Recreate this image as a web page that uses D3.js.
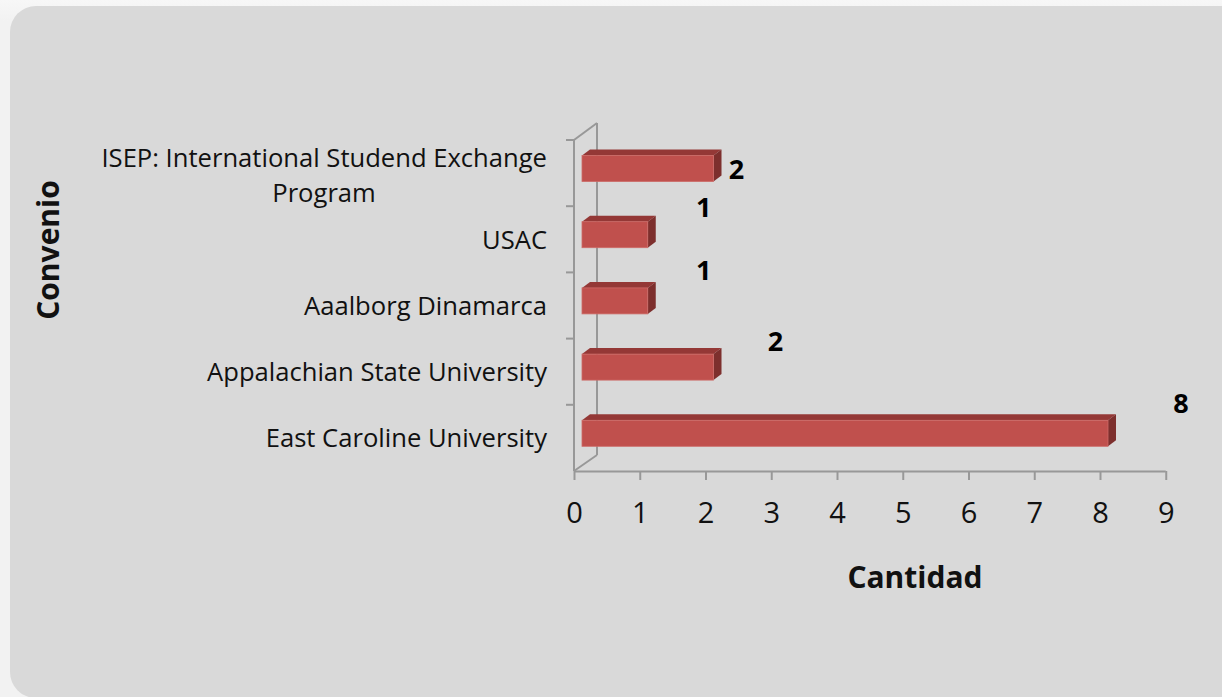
<!DOCTYPE html>
<html><head><meta charset="utf-8">
<script src="https://cdn.jsdelivr.net/npm/d3@7"></script>
<style>html,body{margin:0;padding:0;background:#f2f2f2;}svg{display:block;}</style>
</head><body>
<script>
const categories = ["East Caroline University","Appalachian State University","Aaalborg Dinamarca","USAC","ISEP: International Studend Exchange Program"];
const values = [8, 2, 1, 1, 2];
const xTicks = [0,1,2,3,4,5,6,7,8,9];
const xTitle = "Cantidad";
const yTitle = "Convenio";
// label nudges (Excel 3D data-label placement), relative to bar end / band top
const labelNudge = [[73,-1],[62,3],[56,-2],[56,1],[23,30]];

const W = 1222, H = 697;
const svg = d3.select("body").append("svg").attr("width", W).attr("height", H);
const defs = svg.append("defs");
const g0 = defs.append("linearGradient").attr("id","bg").attr("x1",0).attr("y1",0).attr("x2",0).attr("y2",1);
g0.append("stop").attr("offset","0").attr("stop-color","#f7f7f7");
g0.append("stop").attr("offset","0.03").attr("stop-color","#f2f2f2");
g0.append("stop").attr("offset","1").attr("stop-color","#f2f2f2");
svg.append("rect").attr("width",W).attr("height",H).attr("fill","url(#bg)");
svg.append("rect").attr("x",10).attr("y",6).attr("width",1260).attr("height",692).attr("rx",26).attr("fill","#d9d9d9");

const font = "'Open Sans', sans-serif";
const depthX = 8, depthY = -6;
const x = d3.scaleLinear().domain([0,9]).range([574, 1165.75]);
const xBar = d3.scaleLinear().domain([0,9]).range([574+depthX, 1165.75+depthX]);
const y = d3.scaleBand().domain(categories.slice().reverse()).range([140, 471]).paddingInner(0).paddingOuter(0);
const axisColor = "#989898";

// back wall
const wall = svg.append("g").attr("stroke", axisColor).attr("stroke-width", 2).attr("fill","none");
wall.append("line").attr("x1", x(0)+23).attr("x2", x(0)+23).attr("y1", 123).attr("y2", 471-16);
wall.append("line").attr("x1", x(0)).attr("y1", 140).attr("x2", x(0)+23).attr("y2", 123);
wall.append("line").attr("x1", x(0)).attr("y1", 471).attr("x2", x(0)+23).attr("y2", 471-16);

// bars
const barTop = 15.5, barH = 26;
const bars = svg.append("g").selectAll("g").data(categories).join("g");
bars.each(function(c, i){
  const gg = d3.select(this);
  const x0 = xBar(0), x1 = xBar(values[i]);
  const y0 = y(c) + barTop, y1 = y0 + barH;
  gg.append("path").attr("d", `M${x0},${y0} L${x0+depthX},${y0+depthY} L${x1+depthX},${y0+depthY} L${x1},${y0} Z`).attr("fill","#943836");
  gg.append("path").attr("d", `M${x1},${y0} L${x1+depthX},${y0+depthY} L${x1+depthX},${y1+depthY} L${x1},${y1} Z`).attr("fill","#7d2f2d");
  gg.append("rect").attr("x", x0).attr("y", y0).attr("width", x1-x0).attr("height", barH).attr("fill","#c0504d").attr("stroke","#cd6a67").attr("stroke-width",0.8);
});

// left axis (front)
const la = svg.append("g").attr("stroke", axisColor).attr("stroke-width", 2);
la.append("line").attr("x1", x(0)).attr("x2", x(0)).attr("y1", 140).attr("y2", 471);
const bounds = categories.map(c => y(c)).concat([140]);
la.selectAll("line.t").data(bounds).join("line").attr("class","t")
  .attr("x1", x(0)-8).attr("x2", x(0)).attr("y1", d=>d).attr("y2", d=>d);

// bottom axis
const xa = svg.append("g").attr("transform","translate(0,471)")
  .call(d3.axisBottom(x).tickValues(xTicks).tickSize(9).tickFormat(d3.format("d")));
xa.select(".domain").attr("stroke", axisColor).attr("stroke-width", 2).attr("d", `M${x(0)},0.5H${x(9)}`);
xa.selectAll(".tick line").attr("stroke", axisColor).attr("stroke-width", 2);
xa.selectAll(".tick text").attr("fill","#111").attr("font-family", font).attr("font-size", 29)
  .attr("y", 42).attr("dy","0.35em");

// category labels
const cl = svg.append("g").attr("font-family", font).attr("font-size", 25.6).attr("fill","#111").attr("text-anchor","end");
categories.forEach(c => {
  const cy = y(c) + y.bandwidth()/2;
  if (c.startsWith("ISEP")) {
    cl.append("text").attr("x", 547).attr("y", cy - 15).attr("dy","0.35em").text("ISEP: International Studend Exchange");
    cl.append("text").attr("x", 324).attr("y", cy + 20).attr("dy","0.35em").attr("text-anchor","middle").text("Program");
  } else {
    cl.append("text").attr("x", 547).attr("y", cy + 0.5).attr("dy","0.35em").text(c);
  }
});

// data labels
svg.append("g").attr("font-family", font).attr("font-size", 27).attr("font-weight", "bold").attr("fill","#000").attr("text-anchor","middle")
  .selectAll("text").data(categories).join("text")
  .attr("x", (c,i) => xBar(values[i]) + labelNudge[i][0])
  .attr("y", (c,i) => y(c) + labelNudge[i][1])
  .attr("dy","0.35em")
  .text((c,i) => values[i]);

// axis titles
svg.append("text").attr("x", 915).attr("y", 577).attr("dy","0.35em").attr("text-anchor","middle")
  .attr("font-family", font).attr("font-weight","bold").attr("font-size", 30).attr("fill","#111").text(xTitle);
svg.append("text").attr("transform","translate(48,250) rotate(-90)").attr("dy","0.35em").attr("text-anchor","middle")
  .attr("font-family", font).attr("font-weight","bold").attr("font-size", 30).attr("fill","#111").text(yTitle);
</script>
</body></html>
